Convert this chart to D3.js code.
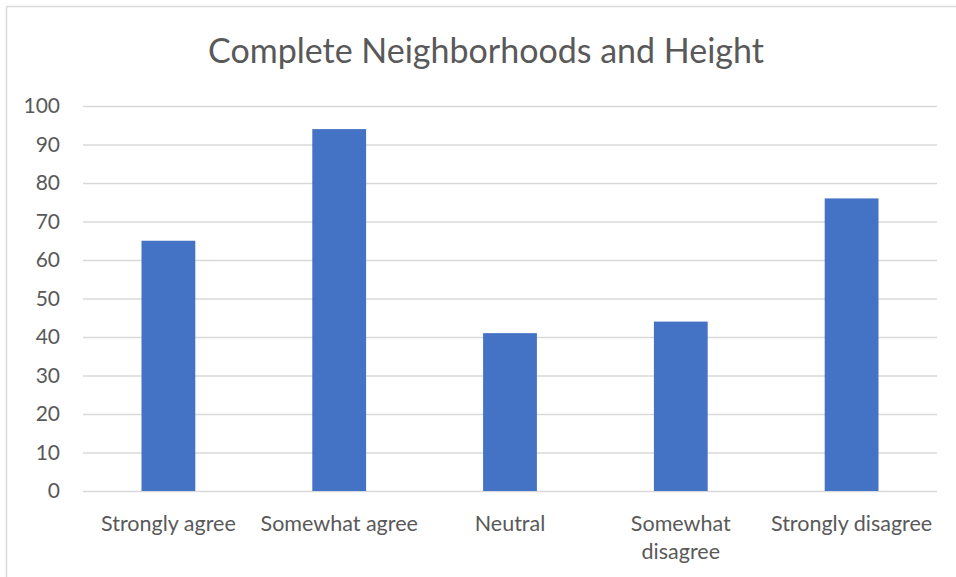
<!DOCTYPE html>
<html><head><meta charset="utf-8">
<script src="https://cdn.jsdelivr.net/npm/d3@7"></script>
<style>body{margin:0;background:#fff;} svg{display:block;}</style>
</head><body>
<script>
const categories = ["Strongly agree", "Somewhat agree", "Neutral", "Somewhat disagree", "Strongly disagree"];
const categoryLines = [["Strongly agree"], ["Somewhat agree"], ["Neutral"], ["Somewhat", "disagree"], ["Strongly disagree"]];
const values = [65, 94, 41, 44, 76];
const yTicks = [0, 10, 20, 30, 40, 50, 60, 70, 80, 90, 100];
const title = "Complete Neighborhoods and Height";

const W = 956, H = 577;
const font = "Lato, 'Open Sans', sans-serif";
const svg = d3.select("body").append("svg").attr("width", W).attr("height", H);
svg.append("rect").attr("width", W).attr("height", H).attr("fill", "#fff");
svg.append("line").attr("x1", 6.5).attr("x2", W).attr("y1", 6.5).attr("y2", 6.5).attr("stroke", "#d9d9d9").attr("stroke-width", 1.5);
svg.append("line").attr("x1", 6.5).attr("x2", 6.5).attr("y1", 6.5).attr("y2", H).attr("stroke", "#d9d9d9").attr("stroke-width", 1.5);

const x = d3.scaleBand().domain(categories).range([83, 937]).paddingInner(0).paddingOuter(0);
const y = d3.scaleLinear().domain([0, 100]).range([491, 106]);

svg.append("text").attr("x", 486).attr("y", 63).attr("text-anchor", "middle")
  .attr("font-family", font).attr("font-size", 34).attr("fill", "#595959").text(title);

const yAxis = svg.append("g").attr("transform", "translate(83,0)")
  .call(d3.axisLeft(y).tickValues(yTicks).tickSize(-854).tickPadding(23));
yAxis.select(".domain").remove();
yAxis.selectAll(".tick line").attr("stroke", "#d9d9d9").attr("stroke-width", 1.5);
yAxis.selectAll(".tick text").attr("font-family", font).attr("font-size", 21).attr("fill", "#595959");

const bw = x.bandwidth() * 0.315;
svg.selectAll("rect.bar").data(values).join("rect").attr("class", "bar")
  .attr("x", (d, i) => x(categories[i]) + x.bandwidth() / 2 - bw / 2)
  .attr("width", bw)
  .attr("y", d => y(d))
  .attr("height", d => y(0) - y(d))
  .attr("fill", "#4472c4");

const xl = svg.append("g");
categoryLines.forEach((lines, i) => {
  const t = xl.append("text").attr("text-anchor", "middle")
    .attr("font-family", font).attr("font-size", 21.5).attr("fill", "#595959");
  lines.forEach((l, j) => {
    t.append("tspan").attr("x", x(categories[i]) + x.bandwidth() / 2).attr("y", 531 + j * 28).text(l);
  });
});
</script>
</body></html>
